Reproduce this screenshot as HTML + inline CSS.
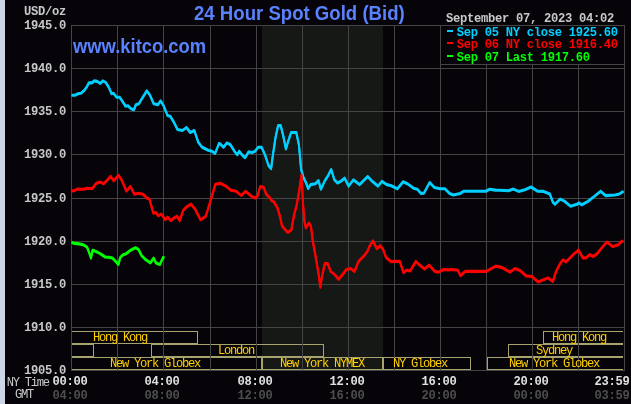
<!DOCTYPE html>
<html><head><meta charset="utf-8"><style>
html,body{margin:0;padding:0;width:631px;height:404px;overflow:hidden;background:#060408}
#c{position:relative;width:631px;height:404px}
svg{position:absolute;left:0;top:0}
#tx{position:absolute;left:0;top:0;width:631px;height:404px;will-change:transform}
.mb,.mr,.t{position:absolute;white-space:pre;line-height:1}
.mb{font:bold 12.15px "Liberation Mono",monospace;letter-spacing:-0.29px}
.mr{font:12.15px "Liberation Mono",monospace;letter-spacing:-1.29px}
.t{font:bold 18.6px "Liberation Sans",sans-serif}
</style></head><body><div id="c">
<svg width="631" height="404" viewBox="0 0 631 404">
<rect x="0" y="0" width="631" height="404" fill="#060408"/>
<rect x="0" y="0" width="5" height="404" fill="#ccd6e4"/>
<rect x="262" y="25" width="121" height="345" fill="#161816"/>
<rect x="71.5" y="331.5" width="126" height="12" fill="none" stroke="#a6a46c" stroke-width="1"/>
<rect x="543.5" y="331.5" width="97" height="12" fill="none" stroke="#a6a46c" stroke-width="1"/>
<rect x="71.5" y="344.5" width="22" height="12" fill="none" stroke="#a6a46c" stroke-width="1"/>
<rect x="151.5" y="344.5" width="172" height="12" fill="none" stroke="#a6a46c" stroke-width="1"/>
<rect x="508.5" y="344.5" width="132" height="12" fill="none" stroke="#a6a46c" stroke-width="1"/>
<rect x="71.5" y="357.5" width="190" height="12" fill="none" stroke="#a6a46c" stroke-width="1"/>
<rect x="262.5" y="357.5" width="120" height="12" fill="none" stroke="#a6a46c" stroke-width="1"/>
<rect x="383.5" y="357.5" width="87" height="12" fill="none" stroke="#a6a46c" stroke-width="1"/>
<rect x="487.5" y="357.5" width="153" height="12" fill="none" stroke="#a6a46c" stroke-width="1"/>
<rect x="623" y="326" width="8" height="50" fill="#060408"/>
<rect x="71" y="25" width="1" height="346" fill="#444444"/>
<rect x="117" y="25" width="1" height="346" fill="#444444"/>
<rect x="163" y="25" width="1" height="346" fill="#444444"/>
<rect x="210" y="25" width="1" height="346" fill="#444444"/>
<rect x="256" y="25" width="1" height="346" fill="#444444"/>
<rect x="302" y="25" width="1" height="346" fill="#444444"/>
<rect x="348" y="25" width="1" height="346" fill="#444444"/>
<rect x="394" y="25" width="1" height="346" fill="#444444"/>
<rect x="440" y="25" width="1" height="346" fill="#444444"/>
<rect x="486" y="25" width="1" height="346" fill="#444444"/>
<rect x="532" y="25" width="1" height="346" fill="#444444"/>
<rect x="578" y="25" width="1" height="346" fill="#444444"/>
<rect x="624" y="25" width="1" height="346" fill="#444444"/>
<rect x="71" y="25" width="554" height="1" fill="#444444"/>
<rect x="71" y="68" width="554" height="1" fill="#444444"/>
<rect x="71" y="111" width="554" height="1" fill="#444444"/>
<rect x="71" y="154" width="554" height="1" fill="#444444"/>
<rect x="71" y="198" width="554" height="1" fill="#444444"/>
<rect x="71" y="241" width="554" height="1" fill="#444444"/>
<rect x="71" y="284" width="554" height="1" fill="#444444"/>
<rect x="71" y="327" width="554" height="1" fill="#444444"/>
<rect x="71" y="370" width="554" height="1" fill="#444444"/>
<polyline transform="translate(0,-0.55)" points="71.5,95.3 75.0,95.3 78.0,93.8 81.0,93.3 83.9,90.8 86.8,86.9 88.8,82.9 91.8,82.9 94.3,80.9 97.2,81.4 100.2,83.4 102.7,80.9 105.7,82.4 108.6,86.9 111.6,93.8 113.6,93.3 116.5,97.2 119.5,97.2 122.0,100.7 125.5,106.2 128.0,105.7 131.0,108.7 133.9,109.7 135.9,104.8 138.9,103.8 141.8,98.8 146.8,90.9 149.8,94.9 153.7,103.8 157.7,104.8 160.6,100.8 163.6,105.7 167.6,115.6 170.5,116.6 173.5,121.6 177.5,129.5 182.4,130.5 186.4,127.5 190.3,132.5 194.3,130.5 198.3,142.4 202.2,147.3 208.2,150.3 212.1,151.3 215.1,153.3 219.1,143.4 220.0,143.8 223.5,147.3 226.9,142.9 230.4,144.7 234.7,151.6 237.3,154.7 239.1,151.2 242.5,155.4 245.1,157.7 248.6,151.9 252.1,152.5 254.7,151.6 258.1,147.3 261.6,147.3 265.1,155.1 268.5,165.5 271.1,168.6 272.9,155.1 275.5,137.7 278.1,125.6 280.7,125.6 283.3,136.0 285.9,149.0 288.5,140.3 291.1,132.5 296.3,132.5 298.9,144.7 300.3,160.0 301.1,169.5 303.5,177.4 305.8,182.2 308.2,188.5 310.6,184.6 315.4,183.8 318.5,180.6 320.9,189.3 324.9,180.6 328.0,175.8 331.2,169.5 334.4,179.8 337.5,183.0 340.7,181.4 344.7,178.2 348.6,186.1 353.4,179.8 359.7,184.6 367.7,176.6 372.4,181.4 378.0,186.1 381.9,181.4 386.7,184.6 390.7,185.5 397.4,188.8 403.1,181.7 407.8,184.0 413.5,188.2 417.3,189.3 421.1,193.5 424.0,193.1 429.7,182.5 434.4,187.4 440.1,188.8 444.9,188.8 449.6,193.5 453.4,195.0 460.1,193.5 463.9,191.2 485.8,191.2 489.6,189.3 495.3,190.1 500.0,190.3 508.3,190.8 513.5,189.1 518.7,191.4 524.9,189.7 531.1,187.0 537.4,191.2 543.6,191.4 549.8,193.9 552.9,202.2 555.0,204.3 560.2,199.1 564.4,201.1 570.6,206.3 576.8,204.3 579.0,203.0 581.8,204.8 587.6,201.6 594.8,196.0 600.6,191.2 605.6,195.6 615.0,195.0 619.4,193.9 623.5,191.4" fill="none" stroke="#00d0ff" stroke-width="2" stroke-linejoin="round"/>
<polyline transform="translate(0,0.55)" points="71.5,95.3 75.0,95.3 78.0,93.8 81.0,93.3 83.9,90.8 86.8,86.9 88.8,82.9 91.8,82.9 94.3,80.9 97.2,81.4 100.2,83.4 102.7,80.9 105.7,82.4 108.6,86.9 111.6,93.8 113.6,93.3 116.5,97.2 119.5,97.2 122.0,100.7 125.5,106.2 128.0,105.7 131.0,108.7 133.9,109.7 135.9,104.8 138.9,103.8 141.8,98.8 146.8,90.9 149.8,94.9 153.7,103.8 157.7,104.8 160.6,100.8 163.6,105.7 167.6,115.6 170.5,116.6 173.5,121.6 177.5,129.5 182.4,130.5 186.4,127.5 190.3,132.5 194.3,130.5 198.3,142.4 202.2,147.3 208.2,150.3 212.1,151.3 215.1,153.3 219.1,143.4 220.0,143.8 223.5,147.3 226.9,142.9 230.4,144.7 234.7,151.6 237.3,154.7 239.1,151.2 242.5,155.4 245.1,157.7 248.6,151.9 252.1,152.5 254.7,151.6 258.1,147.3 261.6,147.3 265.1,155.1 268.5,165.5 271.1,168.6 272.9,155.1 275.5,137.7 278.1,125.6 280.7,125.6 283.3,136.0 285.9,149.0 288.5,140.3 291.1,132.5 296.3,132.5 298.9,144.7 300.3,160.0 301.1,169.5 303.5,177.4 305.8,182.2 308.2,188.5 310.6,184.6 315.4,183.8 318.5,180.6 320.9,189.3 324.9,180.6 328.0,175.8 331.2,169.5 334.4,179.8 337.5,183.0 340.7,181.4 344.7,178.2 348.6,186.1 353.4,179.8 359.7,184.6 367.7,176.6 372.4,181.4 378.0,186.1 381.9,181.4 386.7,184.6 390.7,185.5 397.4,188.8 403.1,181.7 407.8,184.0 413.5,188.2 417.3,189.3 421.1,193.5 424.0,193.1 429.7,182.5 434.4,187.4 440.1,188.8 444.9,188.8 449.6,193.5 453.4,195.0 460.1,193.5 463.9,191.2 485.8,191.2 489.6,189.3 495.3,190.1 500.0,190.3 508.3,190.8 513.5,189.1 518.7,191.4 524.9,189.7 531.1,187.0 537.4,191.2 543.6,191.4 549.8,193.9 552.9,202.2 555.0,204.3 560.2,199.1 564.4,201.1 570.6,206.3 576.8,204.3 579.0,203.0 581.8,204.8 587.6,201.6 594.8,196.0 600.6,191.2 605.6,195.6 615.0,195.0 619.4,193.9 623.5,191.4" fill="none" stroke="#00d0ff" stroke-width="2" stroke-linejoin="round"/>
<polyline transform="translate(0,-0.55)" points="71.0,190.4 73.4,191.1 77.3,189.1 83.7,189.2 86.8,188.3 92.4,188.5 96.4,183.2 100.3,182.1 103.5,183.7 106.7,180.8 110.6,176.4 113.8,180.8 118.5,175.3 121.7,180.1 126.5,191.1 130.4,186.4 134.4,194.3 138.4,193.2 143.1,194.3 147.1,198.3 149.4,199.1 153.4,213.3 155.8,212.5 158.2,215.7 161.3,214.1 165.3,219.7 167.6,217.2 171.1,220.7 173.7,218.1 177.1,216.3 179.7,220.7 183.2,210.3 186.7,206.8 191.0,204.2 195.3,209.4 200.5,219.8 205.7,216.3 209.2,205.1 211.8,196.4 215.3,184.3 220.5,183.4 225.7,186.0 230.9,190.3 236.1,191.2 241.3,195.5 245.6,191.2 251.7,196.4 255.1,198.1 257.6,196.0 260.2,186.5 263.7,187.3 266.3,194.3 269.7,197.7 271.5,200.3 274.1,202.1 277.5,208.1 280.1,216.8 281.9,225.5 285.3,229.8 287.9,232.4 291.4,229.8 294.0,215.1 296.6,205.5 299.2,190.8 301.4,175.0 303.2,206.4 304.4,221.1 305.9,227.9 308.9,223.0 310.9,225.9 312.9,241.8 315.8,257.6 318.8,275.4 320.4,287.3 321.8,277.4 324.8,263.6 327.7,263.6 330.7,271.5 334.7,274.5 338.6,279.4 342.6,274.5 346.5,269.5 350.5,268.5 354.5,271.5 358.4,261.6 363.4,256.6 367.3,251.7 369.3,246.7 372.9,240.8 376.8,248.7 380.2,245.7 383.2,249.7 386.1,257.6 391.1,261.6 395.0,261.2 399.8,261.4 403.6,272.8 406.4,270.3 410.2,270.9 415.9,261.4 419.7,265.2 424.5,269.0 429.2,265.2 434.9,271.4 438.7,272.2 443.5,269.5 448.2,269.9 452.0,269.5 457.7,270.3 460.6,275.6 465.3,271.4 486.3,271.4 495.8,266.1 502.4,267.6 505.3,269.5 510.0,272.2 515.0,268.5 520.0,270.5 526.0,275.9 532.0,276.5 538.0,281.9 547.9,277.9 552.9,281.5 555.9,271.9 559.9,263.9 562.9,259.9 565.9,261.9 573.9,254.0 578.5,250.0 582.9,257.9 585.9,257.9 589.9,254.6 592.9,256.5 596.9,254.0 602.8,246.6 606.8,242.0 612.8,246.6 617.8,245.0 622.8,240.6" fill="none" stroke="#ff0000" stroke-width="2" stroke-linejoin="round"/>
<polyline transform="translate(0,0.55)" points="71.0,190.4 73.4,191.1 77.3,189.1 83.7,189.2 86.8,188.3 92.4,188.5 96.4,183.2 100.3,182.1 103.5,183.7 106.7,180.8 110.6,176.4 113.8,180.8 118.5,175.3 121.7,180.1 126.5,191.1 130.4,186.4 134.4,194.3 138.4,193.2 143.1,194.3 147.1,198.3 149.4,199.1 153.4,213.3 155.8,212.5 158.2,215.7 161.3,214.1 165.3,219.7 167.6,217.2 171.1,220.7 173.7,218.1 177.1,216.3 179.7,220.7 183.2,210.3 186.7,206.8 191.0,204.2 195.3,209.4 200.5,219.8 205.7,216.3 209.2,205.1 211.8,196.4 215.3,184.3 220.5,183.4 225.7,186.0 230.9,190.3 236.1,191.2 241.3,195.5 245.6,191.2 251.7,196.4 255.1,198.1 257.6,196.0 260.2,186.5 263.7,187.3 266.3,194.3 269.7,197.7 271.5,200.3 274.1,202.1 277.5,208.1 280.1,216.8 281.9,225.5 285.3,229.8 287.9,232.4 291.4,229.8 294.0,215.1 296.6,205.5 299.2,190.8 301.4,175.0 303.2,206.4 304.4,221.1 305.9,227.9 308.9,223.0 310.9,225.9 312.9,241.8 315.8,257.6 318.8,275.4 320.4,287.3 321.8,277.4 324.8,263.6 327.7,263.6 330.7,271.5 334.7,274.5 338.6,279.4 342.6,274.5 346.5,269.5 350.5,268.5 354.5,271.5 358.4,261.6 363.4,256.6 367.3,251.7 369.3,246.7 372.9,240.8 376.8,248.7 380.2,245.7 383.2,249.7 386.1,257.6 391.1,261.6 395.0,261.2 399.8,261.4 403.6,272.8 406.4,270.3 410.2,270.9 415.9,261.4 419.7,265.2 424.5,269.0 429.2,265.2 434.9,271.4 438.7,272.2 443.5,269.5 448.2,269.9 452.0,269.5 457.7,270.3 460.6,275.6 465.3,271.4 486.3,271.4 495.8,266.1 502.4,267.6 505.3,269.5 510.0,272.2 515.0,268.5 520.0,270.5 526.0,275.9 532.0,276.5 538.0,281.9 547.9,277.9 552.9,281.5 555.9,271.9 559.9,263.9 562.9,259.9 565.9,261.9 573.9,254.0 578.5,250.0 582.9,257.9 585.9,257.9 589.9,254.6 592.9,256.5 596.9,254.0 602.8,246.6 606.8,242.0 612.8,246.6 617.8,245.0 622.8,240.6" fill="none" stroke="#ff0000" stroke-width="2" stroke-linejoin="round"/>
<polyline transform="translate(0,-0.55)" points="71.5,242.3 74.3,243.4 79.1,243.9 83.1,244.7 87.0,247.1 88.6,251.0 91.0,258.1 92.6,250.2 94.9,251.0 99.7,253.4 105.2,257.0 110.0,257.4 112.4,258.1 115.5,261.3 118.4,264.5 120.3,257.4 122.7,255.0 126.6,253.4 130.6,250.2 135.4,247.8 138.5,249.4 141.7,255.8 145.7,259.7 150.4,262.9 153.6,258.1 156.0,262.9 159.9,264.5 163.1,257.4 164.4,258.1" fill="none" stroke="#00ff00" stroke-width="2" stroke-linejoin="round"/>
<polyline transform="translate(0,0.55)" points="71.5,242.3 74.3,243.4 79.1,243.9 83.1,244.7 87.0,247.1 88.6,251.0 91.0,258.1 92.6,250.2 94.9,251.0 99.7,253.4 105.2,257.0 110.0,257.4 112.4,258.1 115.5,261.3 118.4,264.5 120.3,257.4 122.7,255.0 126.6,253.4 130.6,250.2 135.4,247.8 138.5,249.4 141.7,255.8 145.7,259.7 150.4,262.9 153.6,258.1 156.0,262.9 159.9,264.5 163.1,257.4 164.4,258.1" fill="none" stroke="#00ff00" stroke-width="2" stroke-linejoin="round"/>
<rect x="440" y="25" width="185" height="40" fill="#060408"/>
<rect x="440.5" y="25.5" width="184" height="39" fill="none" stroke="#444444" stroke-width="1"/>
<rect x="447" y="30" width="6" height="2" fill="#00d0ff"/>
<rect x="447" y="42" width="6" height="2" fill="#ff0000"/>
<rect x="447" y="55" width="6" height="2" fill="#00ff00"/>
</svg>
<div id="tx">
<div class="t" style="left:194px;top:2px;color:#5a82ff;transform:scaleY(1.08);transform-origin:0 0">24 Hour Spot Gold (Bid)</div>
<div class="t" style="left:73px;top:36px;font-size:18.4px;color:#5a82ff;transform:scaleY(1.08);transform-origin:0 16.5px">www.kitco.com</div>
<div class="mb" style="left:24px;top:19.19px;color:#c8c8c8">1945.0</div>
<div class="mb" style="left:24px;top:62.19px;color:#c8c8c8">1940.0</div>
<div class="mb" style="left:24px;top:105.19px;color:#c8c8c8">1935.0</div>
<div class="mb" style="left:24px;top:148.19px;color:#c8c8c8">1930.0</div>
<div class="mb" style="left:24px;top:192.19px;color:#c8c8c8">1925.0</div>
<div class="mb" style="left:24px;top:235.19px;color:#c8c8c8">1920.0</div>
<div class="mb" style="left:24px;top:278.19px;color:#c8c8c8">1915.0</div>
<div class="mb" style="left:24px;top:321.19px;color:#c8c8c8">1910.0</div>
<div class="mb" style="left:24px;top:364.19px;color:#c8c8c8">1905.0</div>
<div class="mb" style="left:24px;top:5.19px;color:#c8c8c8">USD/oz</div>
<div class="mb" style="left:446px;top:12.19px;color:#c8c8c8">September 07, 2023 04:02</div>
<div class="mb" style="left:456.8px;top:26.19px;color:#00d0ff">Sep 05 NY close 1925.60</div>
<div class="mb" style="left:456.8px;top:38.19px;color:#ff0000">Sep 06 NY close 1916.40</div>
<div class="mb" style="left:456.8px;top:51.19px;color:#00ff00">Sep 07 Last 1917.60</div>
<div class="mr" style="left:93px;top:331.19px;color:#ffd000">Hong Kong</div>
<div class="mr" style="left:218px;top:344.19px;color:#ffd000">London</div>
<div class="mr" style="left:110px;top:357.19px;color:#ffd000">New York Globex</div>
<div class="mr" style="left:280px;top:357.19px;color:#ffd000">New York NYMEX</div>
<div class="mr" style="left:393px;top:357.19px;color:#ffd000">NY Globex</div>
<div class="mr" style="left:552px;top:331.19px;color:#ffd000">Hong Kong</div>
<div class="mr" style="left:536px;top:344.19px;color:#ffd000">Sydney</div>
<div class="mr" style="left:509px;top:357.19px;color:#ffd000">New York Globex</div>
<div class="mb" style="left:52.5px;top:375.19px;color:#e0e0e0">00:00</div>
<div class="mb" style="left:52.5px;top:389.19px;color:#4e4e4e">04:00</div>
<div class="mb" style="left:144.5px;top:375.19px;color:#e0e0e0">04:00</div>
<div class="mb" style="left:144.5px;top:389.19px;color:#4e4e4e">08:00</div>
<div class="mb" style="left:237.5px;top:375.19px;color:#e0e0e0">08:00</div>
<div class="mb" style="left:237.5px;top:389.19px;color:#4e4e4e">12:00</div>
<div class="mb" style="left:329.5px;top:375.19px;color:#e0e0e0">12:00</div>
<div class="mb" style="left:329.5px;top:389.19px;color:#4e4e4e">16:00</div>
<div class="mb" style="left:421.5px;top:375.19px;color:#e0e0e0">16:00</div>
<div class="mb" style="left:421.5px;top:389.19px;color:#4e4e4e">20:00</div>
<div class="mb" style="left:513.5px;top:375.19px;color:#e0e0e0">20:00</div>
<div class="mb" style="left:513.5px;top:389.19px;color:#4e4e4e">00:00</div>
<div class="mb" style="left:594.5px;top:375.19px;color:#e0e0e0">23:59</div>
<div class="mb" style="left:594.5px;top:389.19px;color:#4e4e4e">03:59</div>
<div class="mr" style="left:6.7px;top:376.19px;color:#c8c8c8">NY Time</div>
<div class="mr" style="left:15px;top:388.19px;color:#c8c8c8">GMT</div>
</div>
</div></body></html>
